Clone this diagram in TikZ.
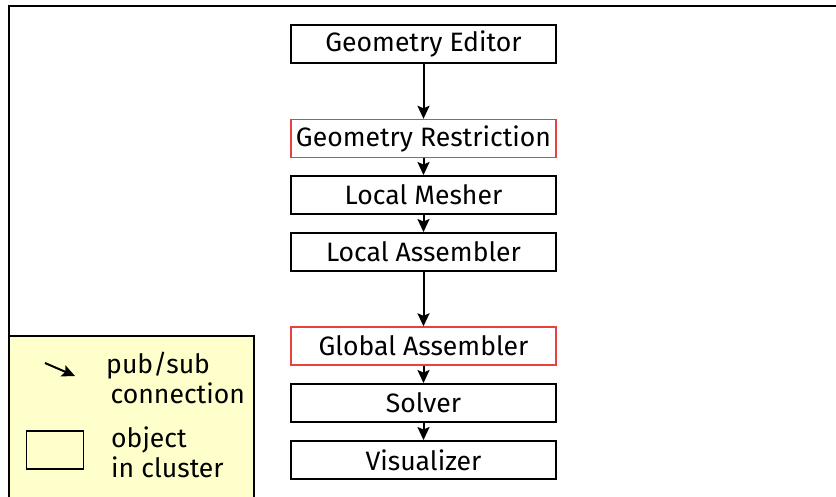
\documentclass[tikz,border=0pt]{standalone}
\usepackage{fontspec}
\setmainfont{Fira Sans}
\usetikzlibrary{arrows.meta}
\begin{document}
\begin{tikzpicture}[x=1pt,y=-1pt,
  obj/.style={draw=black,line width=1.9pt,minimum width=265pt,minimum height=38pt,inner sep=0pt,
    font=\fontsize{26.6}{30}\selectfont},
  restr/.style={obj,draw={rgb,255:red,235;green,64;blue,64},line width=1.4pt},
  link/.style={line width=2pt,-{Stealth[length=13pt,width=12pt,inset=2.5pt]}},
  legtext/.style={font=\fontsize{26.6}{30}\selectfont,align=left,inner sep=0pt}]
\useasboundingbox (0,0) rectangle (836,496);
\begin{scope}
\clip (0,0) rectangle (836,496);
% enclosing cluster frame
\draw[line width=2.2pt] (9,6) rectangle (860,520);
% legend panel
\draw[line width=1.6pt,fill={rgb,255:red,255;green,255;blue,204}] (9,336) rectangle (254,520);
\end{scope}
% chain of objects
\node[obj]   (ge) at (423.5,44)  {Geometry Editor};
\node[restr] (gr) at (423.5,138.5) {Geometry Restriction};
\node[obj]   (lm) at (423.5,195) {Local Mesher};
\node[obj]   (la) at (423.5,252) {Local Assembler};
\node[restr] (ga) at (423.5,346) {Global Assembler};
\node[obj]   (so) at (423.5,403) {Solver};
\node[obj]   (vi) at (423.5,460) {Visualizer};
\draw[link] (ge) -- (gr);
\draw[link] (gr) -- (lm);
\draw[link] (lm) -- (la);
\draw[link] (la) -- (ga);
\draw[link] (ga) -- (so);
\draw[link] (so) -- (vi);
% legend entries
\coordinate (la0) at (45,363);
\coordinate (la1) at (75,376);
\draw[link] (la0) -- (la1);
\node[legtext,anchor=west] (lt1) at (106,378) {pub/sub\\\,connection};
\node[draw=black,line width=1.6pt,minimum width=57pt,minimum height=38pt,inner sep=0pt] (lbox) at (55,450) {};
\node[legtext,anchor=west] (lt2) at (111,452) {object\\in cluster};
\end{tikzpicture}
\end{document}
